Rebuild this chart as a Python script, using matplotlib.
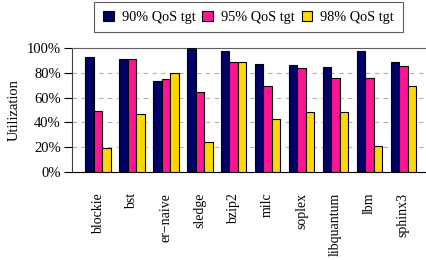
import matplotlib
matplotlib.use("Agg")
import matplotlib.pyplot as plt
import numpy as np

plt.rcParams['font.family'] = ['Liberation Serif', 'DejaVu Serif']
plt.rcParams['mathtext.fontset'] = 'stix'

categories = ["blockie", "bst", "er\u2212naive", "sledge", "bzip2", "milc",
              "soplex", "libquantum", "lbm", "sphinx3"]
series_names = ["90% QoS tgt", "95% QoS tgt", "98% QoS tgt"]
qos90 = [93, 91, 73.5, 100, 97.5, 87, 86, 85, 97.5, 89]
qos95 = [49, 91, 75, 64.5, 89, 69, 83.5, 76, 76, 85.5]
qos98 = [19, 46.5, 80, 24, 89, 42.5, 48.5, 48, 21, 69.5]
colors = ["#000066", "#FF1493", "#FFD700"]
yticks = [0, 20, 40, 60, 80, 100]
yticklabels = ["0%", "20%", "40%", "60%", "80%", "100%"]

fig = plt.figure(figsize=(4.27, 2.60), dpi=100)
ax = fig.add_axes([72/427, 1 - 172/260, (427 - 72)/427, 124/260])

x = np.arange(len(categories))
w = 0.25
for i, (vals, name) in enumerate(zip([qos90, qos95, qos98], series_names)):
    ax.bar(x + (i - 1) * w, vals, w, color=colors[i], edgecolor="black",
           linewidth=0.8, label=name, zorder=3)

ax.set_xlim(-0.77, 9.7)
ax.set_ylim(0, 100)
ax.set_yticks(yticks)
ax.set_yticklabels(yticklabels, fontsize=10.5)
ax.set_xticks(x)
ax.set_xticklabels(categories, rotation=90, fontsize=10, va="top")
ax.tick_params(axis="x", length=0, pad=15)
ax.tick_params(axis="y", direction="out", length=6, width=0.8, pad=2)
ax.set_ylabel("Utilization", fontsize=10.5, labelpad=4)

for y in [20, 40, 60, 80]:
    ax.axhline(y, color="#b0b0b0", linestyle=(0, (4, 4)), linewidth=0.8, zorder=0)

ax.spines["right"].set_visible(False)
ax.spines["top"].set_color("#606060")
ax.spines["top"].set_linewidth(0.8)
ax.spines["left"].set_color("#404040")
ax.spines["bottom"].set_color("black")

leg = ax.legend(loc="upper center", bbox_to_anchor=(248.5/427, 1 - 2/260),
                bbox_transform=fig.transFigure,
                ncol=3, fontsize=10.3, frameon=True, fancybox=False,
                edgecolor="#333333", handlelength=0.75, handleheight=0.75,
                columnspacing=0.5, handletextpad=0.55, borderpad=0.6,
                borderaxespad=0)
leg.get_frame().set_linewidth(0.8)

fig.savefig("out.png", dpi=100)
